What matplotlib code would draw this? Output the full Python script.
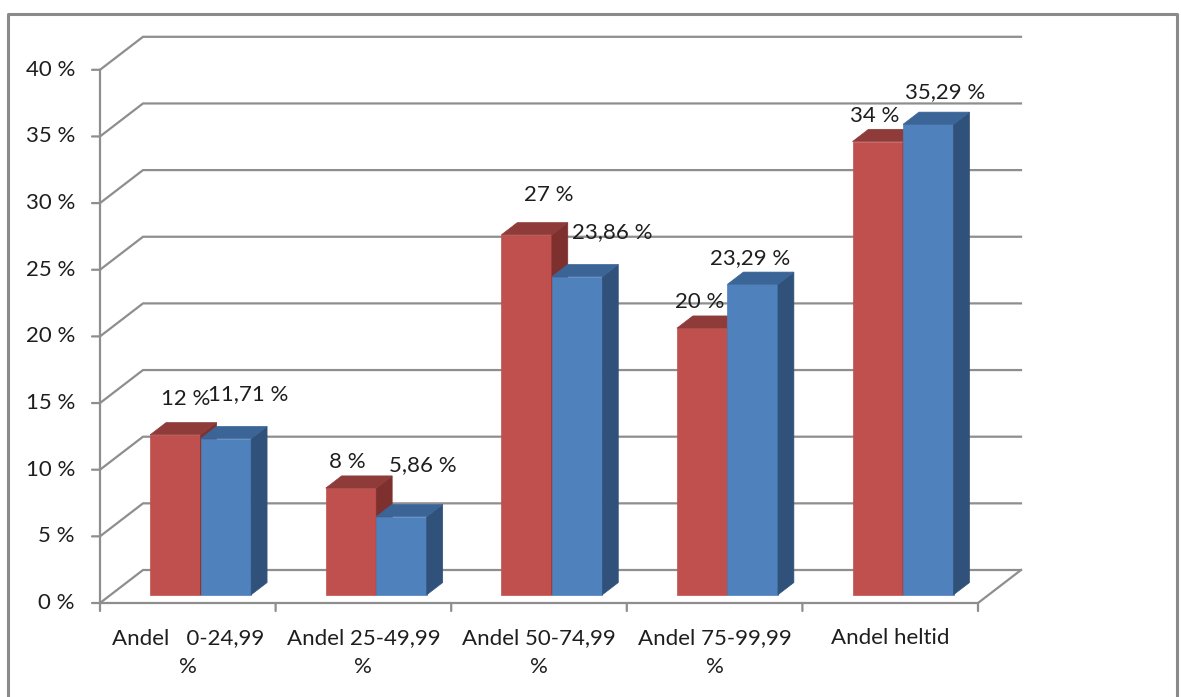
import matplotlib
matplotlib.use("Agg")
import matplotlib.pyplot as plt
from matplotlib.patches import Polygon
from matplotlib.lines import Line2D

# data
categories = ["Andel   0-24,99\n%", "Andel 25-49,99\n%", "Andel 50-74,99\n%",
              "Andel 75-99,99\n%", "Andel heltid"]
red_values = [12, 8, 27, 20, 34]
blue_values = [11.71, 5.86, 23.86, 23.29, 35.29]
red_labels = ["12 %", "8 %", "27 %", "20 %", "34 %"]
blue_labels = ["11,71 %", "5,86 %", "23,86 %", "23,29 %", "35,29 %"]
y_ticks = [0, 5, 10, 15, 20, 25, 30, 35, 40]

# label offsets from the bar's front top centre (pixels)
red_offsets = [(12, 36), (-2, 26), (24, 40), (-1, 26), (-1, 26)]
blue_offsets = [(24, 45), (23, 52), (37, 45), (-1, 26), (19, 32)]

RED = ("#C0504D", "#7E302E", "#8E3B39")    # front, side, top
BLUE = ("#4F81BD", "#30517A", "#3B6597")
GRID = "#8E8E8E"
TXT = "#1E1E1E"

plt.rcParams["font.family"] = ["Lato", "DejaVu Sans"]
FS = 16

W, H = 1181, 697
fig = plt.figure(figsize=(W / 100, H / 100), dpi=100)
ax = fig.add_axes([0, 0, 1, 1])
ax.set_axis_off()

# scale: one category = 175.6 px, one percent = 13.33 px
cat_px, pct_px = 175.6, 13.33
x0_px, y0_px = 100, 603
ax.set_xlim(-0.5 - x0_px / cat_px, -0.5 + (W - x0_px) / cat_px)
ax.set_ylim(-(H - y0_px) / pct_px, y0_px / pct_px)

DX, DY = 43 / cat_px, 33 / pct_px   # depth of the floor
n = len(categories)
left, right = -0.5, n - 0.5

# walls and grid
for g in y_ticks:
    ax.plot([left, left + DX, right + DX], [g, g + DY, g + DY], color=GRID, lw=1.6,
            solid_joinstyle="miter", zorder=1)
    ax.annotate("", (left, g), xytext=(-8, 0), textcoords="offset pixels",
                arrowprops=dict(arrowstyle="-", color=GRID, lw=1.6, shrinkA=0, shrinkB=0))
    ax.annotate(f"{g} %", (left, g), xytext=(-25, 0), textcoords="offset pixels",
                ha="right", va="center", fontsize=FS, color=TXT)
ax.plot([left, left], [0, y_ticks[-1]], color=GRID, lw=1.6, zorder=1)
ax.plot([left, right, right + DX], [0, 0, DY], color=GRID, lw=1.6, zorder=1)
for b in range(n + 1):
    ax.annotate("", (left + b, 0), xytext=(0, -8), textcoords="offset pixels",
                arrowprops=dict(arrowstyle="-", color=GRID, lw=1.6, shrinkA=0, shrinkB=0))

# 3d columns
bw = 0.2876
shift = 0.012
f0, f1 = 0.25, 0.62


def bar3d(xl, v, cols):
    xr = xl + bw
    a0x, a0y = f0 * DX, f0 * DY
    a1x, a1y = f1 * DX, f1 * DY
    front = [(xl + a0x, a0y), (xr + a0x, a0y), (xr + a0x, v + a0y), (xl + a0x, v + a0y)]
    side = [(xr + a0x, a0y), (xr + a1x, a1y), (xr + a1x, v + a1y), (xr + a0x, v + a0y)]
    top = [(xl + a0x, v + a0y), (xr + a0x, v + a0y), (xr + a1x, v + a1y), (xl + a1x, v + a1y)]
    for pts, c in ((front, cols[0]), (side, cols[1]), (top, cols[2])):
        ax.add_patch(Polygon(pts, closed=True, facecolor=c, edgecolor=c, lw=0.5, zorder=3))
    return (xl + xr) / 2 + a0x, v + a0y


for i in range(n):
    for vals, labs, offs, cols, k in ((red_values, red_labels, red_offsets, RED, 0),
                                      (blue_values, blue_labels, blue_offsets, BLUE, 1)):
        cx, cy = bar3d(i - bw + k * bw + shift, vals[i], cols)
        ax.annotate(labs[i], (cx, cy), xytext=(offs[i][0] - 2, offs[i][1]),
                    textcoords="offset pixels",
                    ha="center", va="center", fontsize=FS, color=TXT, zorder=5)

for i, c in enumerate(categories):
    ax.annotate(c, (i, 0), xytext=(0, -25), textcoords="offset pixels", ha="center",
                va="top", fontsize=FS, color=TXT, linespacing=1.55)

# chart frame
fx0, fx1, fy = 8 / W, 1177 / W, 1 - 14 / H
fig.add_artist(Line2D([fx0, fx0, fx1, fx1], [0, fy, fy, 0], color="#8A8A8A", lw=2.2,
                      transform=fig.transFigure))

fig.savefig("out.png", dpi=100)
